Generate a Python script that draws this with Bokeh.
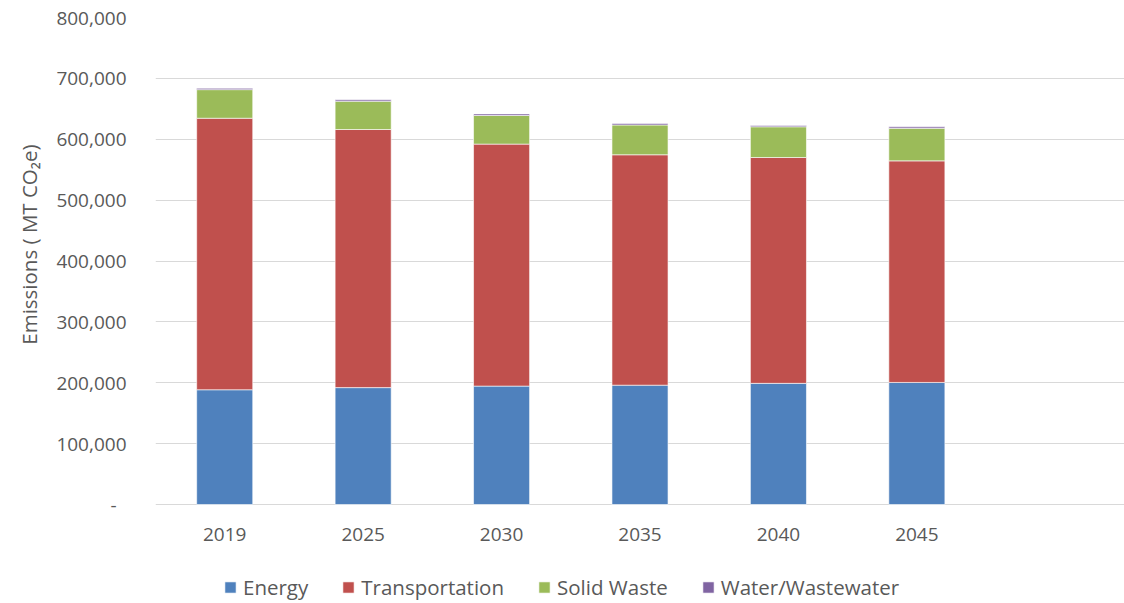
from bokeh.plotting import figure
from bokeh.models import (Range1d, FactorRange, ColumnDataSource, Legend, LegendItem,
                          NumeralTickFormatter, FixedTicker, Title)
from bokeh.core.properties import value
from bokeh.embed import file_html
from bokeh.resources import INLINE

years = ["2019", "2025", "2030", "2035", "2040", "2045"]
energy = [188500, 192000, 194500, 196000, 199000, 200500]
transportation = [446000, 424000, 397500, 378500, 371000, 364000]
solid_waste = [47000, 46500, 47000, 49000, 50500, 53500]
water = [2200, 2300, 2600, 2500, 2200, 2400]
y_ticks = [0, 100000, 200000, 300000, 400000, 500000, 600000, 700000, 800000]

series_keys = ["energy", "transportation", "solid_waste", "water"]
series_names = ["Energy", "Transportation", "Solid Waste", "Water/Wastewater"]
colors = ["#4F81BD", "#C0504D", "#9BBB59", "#8064A2"]

src = ColumnDataSource(dict(year=years, energy=energy, transportation=transportation,
                            solid_waste=solid_waste, water=water,
                            base=[0] * len(years)))

FONT = "Open Sans"
TXT = "#595959"
GRID = "#d9d9d9"

# plot area runs to the bottom of the canvas so the category labels and legend
# can sit below the zero line inside it
y_top = 800000
y_bottom = -y_top * 99 / 487

p = figure(width=1124, height=603, output_backend="svg", toolbar_location=None,
           x_range=FactorRange(factors=years + [" "]),
           y_range=Range1d(y_bottom, y_top),
           min_border_left=155, min_border_right=0, min_border_top=17, min_border_bottom=0)

rs = p.vbar_stack(series_keys, x="year", width=0.405, source=src, color=colors,
                  line_color="white", line_width=0.6)

# category labels under the zero line
p.text(x="year", y="base", text="year", source=src, y_offset=30,
       text_align="center", text_baseline="middle",
       text_font=value(FONT), text_font_size="19px", text_color=TXT)

p.outline_line_color = None
p.xaxis.visible = False
p.xgrid.grid_line_color = None
p.ygrid.grid_line_color = GRID
p.ygrid.grid_line_width = 1

yax = p.yaxis[0]
yax.ticker = FixedTicker(ticks=y_ticks)
yax.formatter = NumeralTickFormatter(format="0,0")
yax.major_label_overrides = {0: "-\u00a0\u00a0"}
yax.axis_line_color = None
yax.major_tick_line_color = None
yax.minor_tick_line_color = None
yax.major_label_standoff = 23
yax.major_label_text_font = FONT
yax.major_label_text_font_size = "19px"
yax.major_label_text_color = TXT

p.add_layout(Title(text="Emissions ( MT CO\u2082e)", align="right", offset=127, standoff=22,
                   text_font=FONT, text_font_size="20.5px", text_font_style="normal",
                   text_color=TXT), "left")

items = [LegendItem(label=n, renderers=[r]) for n, r in zip(series_names, rs)]
legend = Legend(items=items, orientation="horizontal", location=(68, 2),
                glyph_width=14, glyph_height=14, label_standoff=6, spacing=33,
                padding=0, margin=0, border_line_color=None, background_fill_alpha=0,
                label_text_font=FONT, label_text_font_size="20.5px", label_text_color=TXT)
p.add_layout(legend, "center")

open("out.html", "w").write(file_html(p, INLINE))
